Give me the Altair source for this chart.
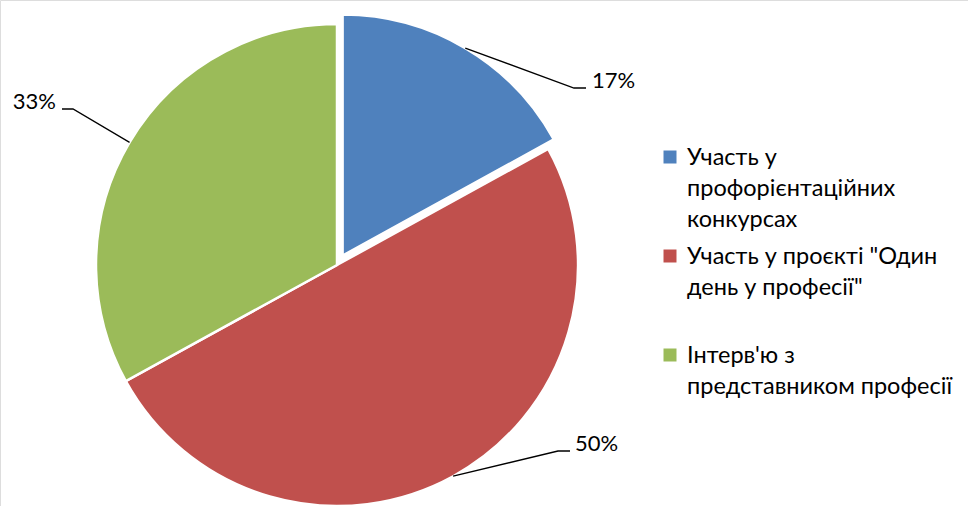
import math
import altair as alt
import pandas as pd

# ---- data ----
categories = [
    "Участь у профорієнтаційних конкурсах",
    "Участь у проєкті \"Один день у професії\"",
    "Інтерв'ю з представником професії",
]
values = [17, 50, 33]
colors = ["#4F81BD", "#C0504D", "#9BBB59"]
legend_labels = [
    "Участь у\nпрофорієнтаційних\nконкурсах",
    "Участь у проєкті \"Один\nдень у професії\"",
    "Інтерв'ю з\nпредставником професії",
]

# ---- layout ----
W, H = 968, 506
CX, CY, R = 337, 265, 241
EXPLODE = 11  # first slice pulled out
ELBOW = [(574, 88), (558, 451), (73, 109)]
TAIL = [(586, 88), (570, 451), (62, 109)]
LABEL_POS = [(592, 88, "left"), (575, 451, "left"), (56, 109, "right")]
FONT = "Lato"
FS = 22
LEG_FS = 23.5
LEG_X, LEG_Y0, LEG_STEP = 670, 157, 99
LEG_TEXT_X = 687

df = pd.DataFrame({"category": categories, "value": values, "idx": range(len(values))})

# angles derived from data (for the exploded slice offset and leader start)
total = sum(values)
mids = []
cum = 0
for v in values:
    a0 = cum / total * 2 * math.pi
    cum += v
    a1 = cum / total * 2 * math.pi
    mids.append((a0 + a1) / 2)
ex_dx = EXPLODE * math.sin(mids[0])
ex_dy = -EXPLODE * math.cos(mids[0])

scale = alt.Scale(domain=categories, range=colors)

base = alt.Chart(df).encode(
    theta=alt.Theta("value:Q", stack=True),
    order=alt.Order("idx:Q"),
    color=alt.Color("category:N", scale=scale, sort=categories, legend=None),
)

pie_main = base.mark_arc(radius=R, stroke="white", strokeWidth=2.5).encode(
    x=alt.value(CX), y=alt.value(CY),
    opacity=alt.condition(alt.datum.idx == 0, alt.value(0), alt.value(1)),
)
pie_ex = base.mark_arc(radius=R, stroke="white", strokeWidth=2.5).encode(
    x=alt.value(CX + ex_dx), y=alt.value(CY + ex_dy),
    opacity=alt.condition(alt.datum.idx == 0, alt.value(1), alt.value(0)),
)

# leader lines
rows = []
for i, (cat, m) in enumerate(zip(categories, mids)):
    ox = ex_dx if i == 0 else 0
    oy = ex_dy if i == 0 else 0
    ex = CX + ox + R * math.sin(m)
    ey = CY + oy - R * math.cos(m)
    rows.append({"category": cat, "p": 0, "px": ex, "py": ey})
    rows.append({"category": cat, "p": 1, "px": ELBOW[i][0], "py": ELBOW[i][1]})
    rows.append({"category": cat, "p": 2, "px": TAIL[i][0], "py": TAIL[i][1]})
lines_df = pd.DataFrame(rows)

leaders = alt.Chart(lines_df).mark_line(color="black", strokeWidth=1.3).encode(
    x=alt.X("px:Q", scale=None, axis=None),
    y=alt.Y("py:Q", scale=None, axis=None),
    detail="category:N",
    order="p:Q",
)

lab_df = pd.DataFrame({
    "txt": [f"{v}%" for v in values],
    "lx": [p[0] for p in LABEL_POS],
    "ly": [p[1] for p in LABEL_POS],
    "al": [p[2] for p in LABEL_POS],
})
labels_left = alt.Chart(lab_df).transform_filter("datum.al == 'left'").mark_text(
    align="left", baseline="alphabetic", font=FONT, fontSize=FS, color="#000000"
).encode(
    x=alt.X("lx:Q", scale=None, axis=None),
    y=alt.Y("ly:Q", scale=None, axis=None),
    text="txt:N",
)
labels_right = alt.Chart(lab_df).transform_filter("datum.al == 'right'").mark_text(
    align="right", baseline="alphabetic", font=FONT, fontSize=FS, color="#000000"
).encode(
    x=alt.X("lx:Q", scale=None, axis=None),
    y=alt.Y("ly:Q", scale=None, axis=None),
    text="txt:N",
)

# manual legend
leg_df = pd.DataFrame({"category": categories, "label": legend_labels, "idx": range(len(categories))})
leg_base = alt.Chart(leg_df).transform_calculate(
    sy=f"{LEG_Y0} + datum.idx * {LEG_STEP}",
    ty=f"{LEG_Y0 + 8} + datum.idx * {LEG_STEP}",
)
leg_sym = leg_base.mark_square(size=169, opacity=1).encode(
    x=alt.value(LEG_X),
    y=alt.Y("sy:Q", scale=None, axis=None),
    color=alt.Color("category:N", scale=scale, legend=None),
)
leg_txt = leg_base.mark_text(
    align="left", baseline="alphabetic", font=FONT, fontSize=LEG_FS, lineHeight=31,
    lineBreak="\n", color="#000000"
).encode(
    x=alt.value(LEG_TEXT_X),
    y=alt.Y("ty:Q", scale=None, axis=None),
    text="label:N",
)

chart = alt.layer(pie_main, pie_ex, leaders, labels_left, labels_right, leg_sym, leg_txt).properties(
    width=W, height=H, padding=0, autosize="none"
).configure_view(stroke=None).configure(background="white")

chart.save("out.html", embed_options={"renderer": "svg", "actions": False})
